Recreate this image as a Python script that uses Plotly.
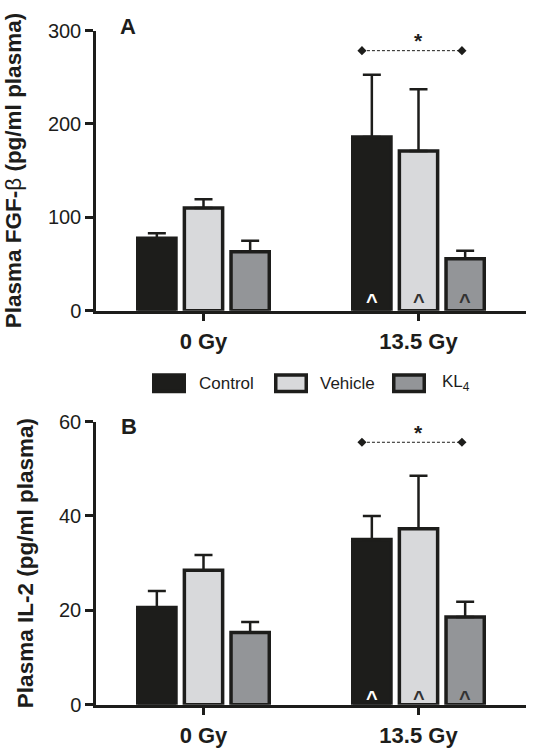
import plotly.graph_objects as go

# ---------------- data ----------------
groups = ["0 Gy", "13.5 Gy"]
series = ["Control", "Vehicle", "KL<sub>4</sub>"]

fgf_control = [77.5, 186.0]
fgf_vehicle = [110.0, 171.0]
fgf_kl4 = [63.0, 55.5]
fgf_control_err = [5.5, 66.7]
fgf_vehicle_err = [9.3, 66.0]
fgf_kl4_err = [12.0, 8.7]

il2_control = [20.6, 35.0]
il2_vehicle = [28.5, 37.3]
il2_kl4 = [15.3, 18.6]
il2_control_err = [3.5, 5.0]
il2_vehicle_err = [3.2, 11.2]
il2_kl4_err = [2.2, 3.2]

fgf_ticks = [0, 100, 200, 300]
il2_ticks = [0, 20, 40, 60]
fgf_sig_y = 278.4
il2_sig_y = 55.6

# ---------------- style ----------------
W, H = 534, 755
ML, MR, MT, MB = 96, 8, 10, 10
PW, PH = W - ML - MR, H - MT - MB
FONT = "Liberation Sans, Arial, sans-serif"
DARK = "#1d1d1b"
fills = ["#1d1d1b", "#d8d9db", "#939598"]
BARGAP = 0.349
slot = (1 - BARGAP) / 3

def px_x(px):
    return (px - ML) / PW

def px_y(py):
    return (H - MB - py) / PH

fig = go.Figure()

panels = [
    ("x", "y", [fgf_control, fgf_vehicle, fgf_kl4], [fgf_control_err, fgf_vehicle_err, fgf_kl4_err]),
    ("x2", "y2", [il2_control, il2_vehicle, il2_kl4], [il2_control_err, il2_vehicle_err, il2_kl4_err]),
]
for xa, ya, vals, errs in panels:
    for i, (name, v, e) in enumerate(zip(series, vals, errs)):
        fig.add_trace(go.Bar(
            x=[0, 1], y=v, name=name, xaxis=xa, yaxis=ya, showlegend=False,
            marker=dict(color=fills[i], line=dict(color=DARK, width=3.5)),
            error_y=dict(type="data", symmetric=False, array=e, arrayminus=[0, 0],
                         color=DARK, thickness=2.5, width=9),
            offsetgroup=str(i),
        ))

# significance brackets
for xa, ya, sy in [("x", "y", fgf_sig_y), ("x2", "y2", il2_sig_y)]:
    fig.add_trace(go.Scatter(
        x=[0.737, 1.202], y=[sy, sy], xaxis=xa, yaxis=ya, mode="lines+markers",
        line=dict(color=DARK, width=1, dash="3px,2px"),
        marker=dict(symbol="diamond", size=7, color=DARK), showlegend=False, hoverinfo="skip",
    ))

annotations = []
# stars
for xa, ya, sy in [("x", "y", 293.0), ("x2", "y2", 58.4)]:
    annotations.append(dict(x=1.0, y=sy, xref=xa, yref=ya,
                            text="<b>*</b>", showarrow=False,
                            font=dict(family=FONT, size=21, color=DARK), yshift=-3))
# carets inside 13.5 Gy bars
caret_colors = ["white", "#333333", "#333333"]
for xa, ya, cy, ys in [("x", "y", 14.3, -4), ("x2", "y2", 2.75, -6)]:
    for i in range(3):
        annotations.append(dict(x=1 + (i - 1) * slot, y=cy, xref=xa, yref=ya, text="<b>^</b>",
                                showarrow=False, font=dict(family=FONT, size=20, color=caret_colors[i]),
                                yshift=ys))
# panel letters
annotations.append(dict(x=px_x(128), y=px_y(27), xref="paper", yref="paper", text="<b>A</b>",
                        xanchor="center", yanchor="middle",
                        showarrow=False, font=dict(family=FONT, size=22, color=DARK)))
annotations.append(dict(x=px_x(129), y=px_y(426), xref="paper", yref="paper", text="<b>B</b>",
                        xanchor="center", yanchor="middle",
                        showarrow=False, font=dict(family=FONT, size=22, color=DARK)))

# legend (manual)
shapes = []
leg_rect_cx = [169, 291, 409]
leg_text_x = [197, 317.5, 440]
for i, name in enumerate(series):
    shapes.append(dict(type="rect", xref="paper", yref="paper",
                       x0=px_x(leg_rect_cx[i] - 15.25), x1=px_x(leg_rect_cx[i] + 15.25),
                       y0=px_y(383.3 + 8.25), y1=px_y(383.3 - 8.25),
                       fillcolor=fills[i], line=dict(color=DARK, width=3.5)))
    annotations.append(dict(x=px_x(leg_text_x[i]), y=px_y(383.3), xref="paper", yref="paper",
                            xanchor="left", yanchor="middle", text=name, showarrow=False,
                            font=dict(family=FONT, size=17, color=DARK)))

axis_common = dict(showline=True, linecolor=DARK, linewidth=2.5, ticks="outside",
                   tickcolor=DARK, tickwidth=2.5, showgrid=False, zeroline=False,
                   automargin=False)

fig.update_layout(
    template="none",
    width=W, height=H, margin=dict(l=ML, r=MR, t=MT, b=MB),
    paper_bgcolor="white", plot_bgcolor="white",
    barmode="group", bargap=BARGAP, bargroupgap=0.18,
    font=dict(family=FONT, color=DARK),
    xaxis=dict(domain=[0, 1], anchor="y", range=[-0.5, 1.5], tickvals=[0, 1],
               ticktext=["<b>" + g + "</b>" for g in groups], ticklen=8,
               tickfont=dict(size=22, family=FONT, color=DARK), ticklabelstandoff=1, **axis_common),
    yaxis=dict(domain=[px_y(310.7), px_y(30.5)], anchor="x", range=[0, 300], tickvals=fgf_ticks,
               ticklen=8, tickfont=dict(size=20, family=FONT, color=DARK),
               title=dict(text="<b>Plasma FGF-</b>β<b> (pg/ml plasma)</b>",
                          font=dict(size=22.5, family=FONT, color=DARK), standoff=20),
               **axis_common),
    xaxis2=dict(domain=[0, 1], anchor="y2", range=[-0.5, 1.5], tickvals=[0, 1],
                ticktext=["<b>" + g + "</b>" for g in groups], ticklen=8,
                tickfont=dict(size=22, family=FONT, color=DARK), ticklabelstandoff=1, **axis_common),
    yaxis2=dict(domain=[px_y(704.7), px_y(421.5)], anchor="x2", range=[0, 60], tickvals=il2_ticks,
                ticklen=8, tickfont=dict(size=20, family=FONT, color=DARK),
                title=dict(text="<b>Plasma IL-2 (pg/ml plasma)</b>",
                           font=dict(size=22.5, family=FONT, color=DARK), standoff=20),
                **axis_common),
    shapes=shapes, annotations=annotations,
)

fig.write_html("out.html", config={"displayModeBar": False},
               post_script="document.body.style.margin='0';document.body.style.overflow='hidden';")
